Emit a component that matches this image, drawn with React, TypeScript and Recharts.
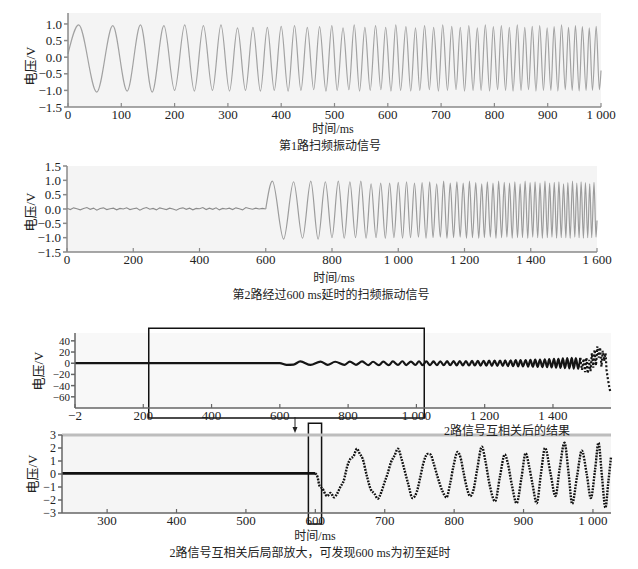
import {
  LineChart,
  Line,
  XAxis,
  YAxis,
  CartesianGrid,
  ReferenceArea,
  ReferenceLine,
} from "recharts";

const SERIF = '"Liberation Serif", "Noto Sans CJK SC", serif';

// channel 1 sweep: times (ms) of every peak / trough and the voltage there
const sweepExtremaMs = [
  20, 54, 84, 111, 136, 158, 180, 200, 219, 237,
  254, 271, 287, 303, 318, 333, 347, 361, 374, 387,
  400, 413, 425, 437, 449, 461, 472, 484, 495, 505,
  516, 527, 537, 547, 557, 567, 577, 587, 596, 606,
  615, 624, 634, 643, 652, 660, 669, 678, 686, 695,
  703, 712, 720, 728, 736, 744, 752, 760, 768, 775,
  783, 791, 798, 806, 813, 821, 828, 835, 843, 850,
  857, 864, 871, 878, 885, 892, 899, 906, 912, 919,
  926, 933, 939, 946, 952, 959, 965, 972, 978, 984,
  991, 997,
];
const sweepExtremaV = [
  0.97, -1.05, 0.95, -1.02, 0.97, -1.05, 0.95, -1.0, 0.97, -1.02,
  0.95, -1.0, 0.97, -1.02, 0.88, -1.0, 0.9, -1.02, 0.9, -1.0,
  0.93, -1.02, 0.95, -1.0, 0.9, -0.98, 0.92, -1.02, 0.95, -1.0,
  0.88, -0.98, 0.97, -1.02, 0.9, -1.0, 0.95, -0.98, 0.9, -1.02,
  0.97, -1.0, 0.92, -1.02, 0.88, -1.0, 0.95, -0.98, 0.9, -1.02,
  0.97, -1.0, 0.93, -0.98, 0.9, -1.02, 0.95, -1.0, 0.88, -1.0,
  0.97, -1.02, 0.92, -0.98, 0.95, -1.0, 0.9, -1.02, 0.97, -1.0,
  0.9, -0.98, 0.93, -1.02, 0.95, -1.0, 0.88, -1.0, 0.92, -1.02,
  0.97, -0.98, 0.9, -1.0, 0.95, -1.02, 0.92, -1.0, 0.88, -1.0,
  0.93, -0.98,
];
const sweepStart = { t: 0, v: 0.1 };
const sweepEnd = { t: 1000, v: -0.4 };

// channel 2: noise before the 600 ms delay, one value every 10 ms
const noiseStepMs = 10;
const ch2Noise = [
  0.03, -0.02, 0.04, 0.01, -0.03, 0.02, 0.05, -0.01, 0.03, -0.04,
  0.02, 0.04, -0.02, 0.01, 0.03, -0.03, 0.02, 0.0, 0.04, -0.02,
  0.01, 0.03, -0.04, 0.02, 0.05, -0.01, 0.02, -0.03, 0.04, 0.01,
  -0.02, 0.03, 0.0, -0.04, 0.02, 0.04, -0.01, 0.03, -0.03, 0.02,
  0.01, 0.05, -0.02, 0.03, -0.01, 0.04, -0.03, 0.02, 0.0, 0.03,
  -0.02, 0.04, 0.01, -0.03, 0.05, 0.02, -0.01, 0.03, 0.0, 0.02, 0.0,
];
const delayMs = 600;

// cross correlation, full view
const corrMs = [
  0, 600, 620, 640, 660, 690, 719, 740, 762, 789, 805, 823, 841, 859, 873, 890,
  903, 919, 931, 946, 959, 970, 984, 997, 1008, 1018, 1029, 1040, 1050, 1060,
  1070, 1080, 1090, 1099, 1109, 1118, 1127, 1136, 1145, 1154, 1163, 1171, 1180,
  1188, 1197, 1205, 1213, 1221, 1229, 1237, 1245, 1253, 1260, 1268, 1276, 1283,
  1291, 1298, 1305, 1312, 1320, 1327, 1334, 1341, 1348, 1355, 1362, 1369, 1376,
  1383, 1389, 1396, 1403, 1409, 1416, 1422, 1429, 1435, 1442, 1448, 1455, 1461,
  1467, 1474, 1480,
];
const corrV = [
  0, 0, -2.8, -2.5, 3.2, -3, 3, -3, 2.6, -3, 2.8, -2.8, 3.3, -3.3, 2.6, -3.5,
  2.8, -3.5, 3.2, -3, 3.5, -3.4, 3, -3.2, 3.5, -3.5, 3.2, -3.4, 3.3, -3.5,
  3.5, -3.5, 3.6, -3.6, 3.7, -3.8, 3.8, -3.8, 4, -4, 4.1, -4.1, 4.2,
  -4.3, 4.4, -4.5, 4.5, -4.6, 4.7, -4.8, 4.8, -4.9, 5, -5.1, 5.2, -5.3,
  5.4, -5.5, 5.6, -5.7, 5.8, -6, 6.1, -6.3, 6.4, -6.5, 6.6, -6.8, 7,
  -7.2, 7.4, -7.6, 7.8, -8, 8, -8.3, 8.5, -8.8, 9, -9.2, 9.4, -9.6,
  9, -10, 9.5,
];
const corrTailMs = [
  1480, 1485, 1490, 1494, 1498, 1502, 1506, 1510, 1514, 1518, 1522, 1526, 1530,
  1534, 1538, 1542, 1546, 1550, 1554, 1557, 1560, 1563, 1566, 1569,
];
const corrTailV = [
  9.5, -12, 8, -16, 10, -18, 6, -14, 18, -8, 24, -4, 30,
  10, 28, -6, 22, 4, 18, -12, -25, -36, -46, -53,
];

// cross correlation, zoomed part
const zoomFlatMs = [235, 600];
const zoomFlatV = [0.05, 0.05];
const zoomMs = [
  600, 603, 606, 610, 617, 622, 627, 631, 636, 641, 646, 651, 655, 660, 664,
  668, 674, 680, 685, 690, 695, 700, 704, 709, 714, 719, 724, 729, 734, 740,
  746, 751, 756, 762, 766, 770, 776, 783, 789, 794, 799, 805, 809, 814, 818,
  823, 828, 833, 840, 845, 851, 859, 866, 873, 877, 883, 890, 897, 903, 908,
  913, 919, 925, 931, 939, 946, 952, 959, 965, 970, 977, 984, 991, 997, 1003,
  1008, 1013, 1018, 1022, 1026,
];
const zoomV = [
  0.05, -0.2, -0.9, -1.1, -1.7, -1.45, -1.8, -1.55, -1.0, -0.5, 0.6, 1.2, 1.35, 1.95, 1.55,
  1.2, -0.1, -1.2, -1.5, -1.9, -1.4, -0.6, 0.0, 0.9, 1.4, 1.95, 1.2, 0.2, -0.8, -1.85,
  -1.4, -0.3, 0.9, 1.55, 1.5, 0.9, -0.2, -1.3, -1.8, -0.8, 0.6, 1.7, 1.3, 0.0, -1.0,
  -1.7, -1.2, 0.3, 2.1, 1.0, -0.8, -2.1, -0.2, 1.5, 0.9, -0.8, -2.25, -0.3, 1.6, 0.6,
  -0.8, -2.25, 0.0, 2.0, 0.0, -1.7, 0.4, 2.4, 0.0, -2.3, -0.2, 1.8, 0.0, -1.85, 0.3,
  2.4, -0.2, -2.6, -0.7, 1.3,
];

// ticks and their labels
const ch1XTicks = [0, 100, 200, 300, 400, 500, 600, 700, 800, 900, 1000];
const ch1XLabels = ["0", "100", "200", "300", "400", "500", "600", "700", "800", "900", "1 000"];
const ch1YTicks = [-1.5, -1, -0.5, 0, 0.5, 1];
const ch1YLabels = ["−1.5", "−1.0", "−0.5", "0.0", "0.5", "1.0"];
const ch2XTicks = [0, 200, 400, 600, 800, 1000, 1200, 1400, 1600];
const ch2XLabels = ["0", "200", "400", "600", "800", "1 000", "1 200", "1 400", "1 600"];
const ch2YTicks = [-1.5, -1, -0.5, 0, 0.5, 1, 1.5];
const ch2YLabels = ["−1.5", "−1.0", "−0.5", "0.0", "0.5", "1.0", "1.5"];
const corrXTicks = [0, 200, 400, 600, 800, 1000, 1200, 1400];
const corrXLabels = ["−2", "200", "400", "600", "800", "1 000", "1 200", "1 400"];
const corrYTicks = [-60, -40, -20, 0, 20, 40];
const corrYLabels = ["−60", "−40", "−20", "0", "20", "40"];
const zoomXTicks = [300, 400, 500, 600, 700, 800, 900, 1000];
const zoomXLabels = ["300", "400", "500", "600", "700", "800", "900", "1 000"];
const zoomYTicks = [-3, -2, -1, 0, 1, 2, 3];
const zoomYLabels = ["−3", "−2", "−1", "0", "1", "2", "3"];

const ch1Data = [
  sweepStart,
  ...sweepExtremaMs.map((t, i) => ({ t, v: sweepExtremaV[i] })),
  sweepEnd,
];
// channel 2 is channel 1 delayed by 600 ms, with noise before it
const ch2Data = [
  ...ch2Noise.map((v, i) => (i === ch2Noise.length - 1 ? { t: i * noiseStepMs, n: v, s: v } : { t: i * noiseStepMs, n: v })),
  ...ch1Data.slice(1).map((p) => ({ t: p.t + delayMs, s: p.v })),
];
const corrData = [
  ...corrMs.map((t, i) => ({ t, a: corrV[i] })),
  ...corrTailMs.map((t, i) => ({ t, b: corrTailV[i] })),
];
const zoomData = [
  { t: zoomFlatMs[0], a: zoomFlatV[0] },
  { t: zoomFlatMs[1], a: zoomFlatV[1], b: zoomV[0] },
  ...zoomMs.slice(1).map((t, i) => ({ t, b: zoomV[i + 1] })),
];

const labelOf = (ticks: number[], labels: string[]) => (v: number) =>
  labels[ticks.indexOf(v)] ?? String(v);

// x ticks point up into the plot, labels sit below the axis
const makeXTick = (fmt: (v: number) => string, color: string) => (props: any) => {
  const { x, y, payload } = props;
  return (
    <g>
      <line x1={x} x2={x} y1={y} y2={y - 4} stroke={color} strokeWidth={1.2} />
      <text x={x} y={y + 12} textAnchor="middle" fontSize={13} fill="#222" fontFamily={SERIF}>
        {fmt(payload.value)}
      </text>
    </g>
  );
};

const Label = ({ x, y, text, size = 12, rotate = false }: any) => (
  <div
    style={{
      position: "absolute",
      left: x,
      top: y,
      transform: `translate(-50%, -50%)${rotate ? " rotate(-90deg)" : ""}`,
      whiteSpace: "nowrap",
      fontFamily: SERIF,
      fontSize: size,
      color: "#222",
      lineHeight: 1,
    }}
  >
    {text}
  </div>
);

const abs = (top: number): React.CSSProperties => ({ position: "absolute", left: 0, top });

export default function App() {
  const lightAxis = { stroke: "#8a8a8a", strokeWidth: 1.5 };
  const darkAxis = { stroke: "#666", strokeWidth: 1.5 };
  const yTickStyle = { fontSize: 13, fill: "#222", fontFamily: SERIF };

  return (
    <div style={{ position: "absolute", left: 0, top: 0, width: 638, height: 569, background: "#fff" }}>
      {/* channel 1 */}
      <div style={abs(0)}>
        <LineChart width={638} height={125} data={ch1Data} margin={{ top: 13, right: 37, left: 0, bottom: 0 }}>
          <CartesianGrid horizontal={false} vertical={false} fill="#f4f4f4" />
          <XAxis
            type="number"
            dataKey="t"
            domain={[0, 1000]}
            ticks={ch1XTicks}
            interval={0}
            height={18}
            axisLine={lightAxis}
            tickLine={false}
            tickSize={0}
            tickMargin={0}
            tick={makeXTick(labelOf(ch1XTicks, ch1XLabels), "#8a8a8a")}
          />
          <YAxis
            type="number"
            width={68}
            domain={[-1.5, 1.33]}
            allowDataOverflow
            ticks={ch1YTicks}
            interval={0}
            tickFormatter={labelOf(ch1YTicks, ch1YLabels)}
            tick={yTickStyle}
            tickSize={4}
            tickLine={lightAxis}
            axisLine={lightAxis}
          />
          <Line type="monotone" dataKey="v" stroke="#a2a2a2" strokeWidth={1.2} dot={false} isAnimationActive={false} />
        </LineChart>
      </div>
      <Label x={30} y={66} text="电压/V" size={13} rotate />
      <Label x={333} y={129} text="时间/ms" />
      <Label x={330} y={146} text="第1路扫频振动信号" />

      {/* channel 2 */}
      <div style={abs(150)}>
        <LineChart width={638} height={120} data={ch2Data} margin={{ top: 16, right: 41, left: 0, bottom: 0 }}>
          <CartesianGrid horizontal={false} vertical={false} fill="#f4f4f4" />
          <XAxis
            type="number"
            dataKey="t"
            domain={[0, 1600]}
            ticks={ch2XTicks}
            interval={0}
            height={18}
            axisLine={lightAxis}
            tickLine={false}
            tickSize={0}
            tickMargin={0}
            tick={makeXTick(labelOf(ch2XTicks, ch2XLabels), "#8a8a8a")}
          />
          <YAxis
            type="number"
            width={67}
            domain={[-1.5, 1.5]}
            allowDataOverflow
            ticks={ch2YTicks}
            interval={0}
            tickFormatter={labelOf(ch2YTicks, ch2YLabels)}
            tick={yTickStyle}
            tickSize={4}
            tickLine={lightAxis}
            axisLine={lightAxis}
          />
          <Line type="linear" dataKey="n" stroke="#8c8c8c" strokeWidth={1.1} dot={false} isAnimationActive={false} />
          <Line type="monotone" dataKey="s" stroke="#9c9c9c" strokeWidth={1.2} dot={false} isAnimationActive={false} />
        </LineChart>
      </div>
      <Label x={30} y={212} text="电压/V" size={13} rotate />
      <Label x={334} y={278} text="时间/ms" />
      <Label x={331} y={295} text="第2路经过600 ms延时的扫频振动信号" />

      {/* cross correlation */}
      <div style={abs(320)}>
        <LineChart width={638} height={106} data={corrData} margin={{ top: 13, right: 27, left: 0, bottom: 0 }}>
          <CartesianGrid horizontal={false} vertical={false} fill="#f8f8f8" />
          <XAxis
            type="number"
            dataKey="t"
            domain={[0, 1570]}
            ticks={corrXTicks}
            interval={0}
            height={18}
            axisLine={darkAxis}
            tickLine={false}
            tickSize={0}
            tickMargin={0}
            tick={makeXTick(labelOf(corrXTicks, corrXLabels), "#666")}
          />
          <YAxis
            type="number"
            width={75}
            domain={[-80, 54]}
            allowDataOverflow
            ticks={corrYTicks}
            interval={0}
            tickFormatter={labelOf(corrYTicks, corrYLabels)}
            tick={{ ...yTickStyle, fontSize: 11 }}
            tickSize={4}
            tickMargin={1}
            tickLine={darkAxis}
            axisLine={darkAxis}
          />
          <Line type="monotone" dataKey="a" stroke="#151515" strokeWidth={2.2} dot={false} isAnimationActive={false} />
          <Line type="linear" dataKey="b" stroke="#151515" strokeWidth={2.2} strokeDasharray="2 2" dot={false} isAnimationActive={false} />
          <ReferenceArea x1={216} x2={1023} y1={-98} y2={62.5} ifOverflow="visible" fill="none" stroke="#111" strokeWidth={1.5} />
        </LineChart>
      </div>
      <Label x={38} y={371} text="电压/V" size={13} rotate />
      <svg style={{ position: "absolute", left: 290, top: 417 }} width={10} height={17}>
        <line x1={5} x2={5} y1={0} y2={12} stroke="#222" strokeWidth={1} />
        <polygon points="2.5,10 7.5,10 5,16" fill="#222" />
      </svg>

      {/* zoomed cross correlation */}
      <div style={abs(415)}>
        <LineChart width={638} height={116} data={zoomData} margin={{ top: 20, right: 27, left: 0, bottom: 0 }}>
          <CartesianGrid horizontal={false} vertical={false} fill="#f5f5f5" />
          <XAxis
            type="number"
            dataKey="t"
            domain={[235, 1026]}
            ticks={zoomXTicks}
            interval={0}
            height={18}
            axisLine={darkAxis}
            tickLine={false}
            tickSize={0}
            tickMargin={0}
            tick={makeXTick(labelOf(zoomXTicks, zoomXLabels), "#666")}
          />
          <YAxis
            type="number"
            width={62}
            domain={[-3, 3]}
            allowDataOverflow
            ticks={zoomYTicks}
            interval={0}
            tickFormatter={labelOf(zoomYTicks, zoomYLabels)}
            tick={{ ...yTickStyle, fontSize: 12 }}
            tickSize={4}
            tickLine={darkAxis}
            axisLine={darkAxis}
          />
          <ReferenceLine y={3} stroke="#bdbdbd" strokeWidth={3} />
          <Line type="linear" dataKey="a" stroke="#111" strokeWidth={2.6} dot={false} isAnimationActive={false} />
          <Line type="monotone" dataKey="b" stroke="#111" strokeWidth={2.4} strokeDasharray="1.8 1.2" dot={false} isAnimationActive={false} />
          <ReferenceArea x1={590} x2={609} y1={-3.85} y2={3.9} ifOverflow="visible" fill="none" stroke="#111" strokeWidth={1.5} />
        </LineChart>
      </div>
      <Label x={507} y={431} text="2路信号互相关后的结果" />
      <Label x={32} y={474} text="电压/V" size={13} rotate />
      <Label x={315} y={536} text="时间/ms" />
      <Label x={310} y={553} text="2路信号互相关后局部放大，可发现600 ms为初至延时" />
    </div>
  );
}
